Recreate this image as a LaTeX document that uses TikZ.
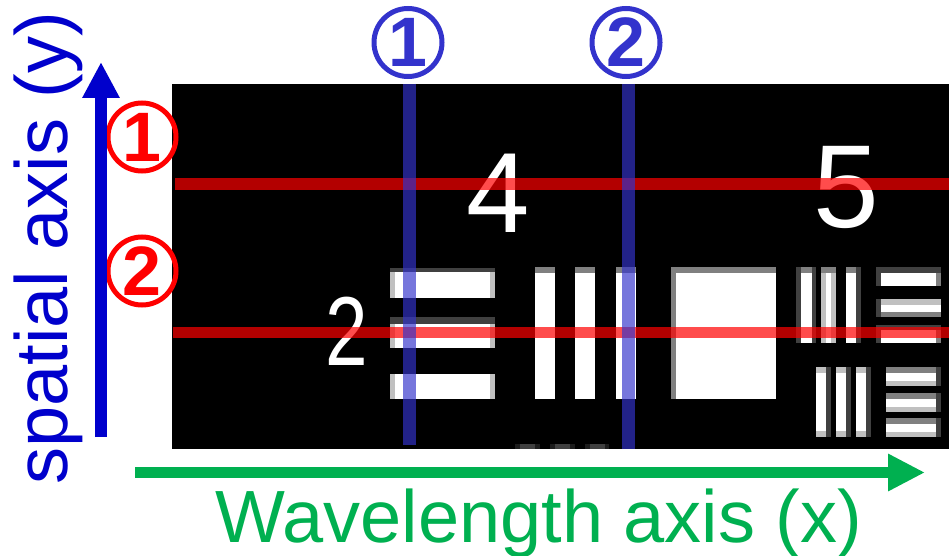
\documentclass[tikz,border=0pt]{standalone}
\usepackage{fontspec}
\setmainfont{Liberation Sans}
\usetikzlibrary{arrows.meta}
\definecolor{axisblue}{HTML}{0000CC}
\definecolor{axisgreen}{HTML}{00B050}
\definecolor{markblue}{HTML}{3333CC}
\definecolor{markred}{HTML}{FF0000}
\definecolor{gA}{HTML}{404040}
\definecolor{gB}{HTML}{808080}
\definecolor{gC}{HTML}{C0C0C0}
\definecolor{gD}{HTML}{1C1C1C}
\newcommand{\pxr}[5]{\fill[#1] (#2,#3) rectangle (#4,#5);}
\tikzset{
  circnum/.style={circle,draw=#1,text=#1,line width=5pt,minimum size=68pt,inner sep=0pt,
    font=\fontsize{70}{72}\selectfont\bfseries},
  digit/.style={anchor=south,inner sep=0pt,text=white},
  redline/.style={draw=markred,opacity=0.7,line width=12pt},
  blueline/.style={draw=markblue,opacity=0.67,line width=13pt},
  axislabel/.style={inner sep=0pt,font=\fontsize{74}{80}\selectfont}
}
\begin{document}
\begin{tikzpicture}[x=1pt,y=-1pt]
\useasboundingbox (0,0) rectangle (949,556);
% image
\fill[black] (172,84) rectangle (949,449);
% group A horizontal bars
\pxr{gC}{390}{268}{495}{298}\pxr{white}{395}{272}{490}{298}\pxr{gA}{390}{268}{495}{272}
\pxr{gC}{390}{317}{495}{348}\pxr{white}{395}{324}{490}{348}\pxr{gA}{390}{317}{495}{324}
\pxr{gC}{390}{374}{495}{399}\pxr{white}{395}{374}{490}{399}
% group B vertical bars
\foreach \xx in {535,575,616}{
  \pxr{gB}{\xx}{267}{\xx+20}{273}\pxr{white}{\xx}{273}{\xx+20}{399}}
% big square
\pxr{gB}{671}{267}{776}{399}\pxr{white}{676}{273}{776}{399}
% group C
\pxr{gA}{796}{267}{816}{343}\pxr{white}{801}{273}{812}{343}\pxr{gB}{801}{267}{812}{273}
\pxr{gC}{821}{267}{836}{343}\pxr{white}{826}{273}{831}{343}\pxr{gB}{821}{267}{836}{273}
\pxr{white}{846}{273}{856}{343}\pxr{gA}{856}{267}{861}{343}\pxr{gB}{846}{267}{856}{273}
% group D
\pxr{gA}{876}{267}{941}{286}\pxr{white}{881}{273}{936}{286}\pxr{gB}{936}{273}{941}{286}
\pxr{gC}{876}{299}{941}{305}\pxr{white}{876}{305}{941}{312}\pxr{gB}{876}{312}{941}{317}
\pxr{gA}{876}{299}{881}{317}
\pxr{gA}{876}{325}{941}{343}\pxr{white}{881}{330}{936}{343}\pxr{gB}{936}{330}{941}{343}
% group E
\foreach \xx in {816,836,856}{
  \pxr{gC}{\xx}{367}{\xx+10}{437}\pxr{white}{\xx}{373}{\xx+10}{431}\pxr{gA}{\xx+10}{367}{\xx+15}{437}}
% group F
\foreach \yy in {367,393,418}{
  \pxr{gB}{886}{\yy}{941}{\yy+6}\pxr{white}{886}{\yy+6}{941}{\yy+14}\pxr{gC}{886}{\yy+14}{941}{\yy+19}
  \pxr{gA}{936}{\yy}{941}{\yy+19}}
% bottom partial bars
\pxr{gD}{515}{444}{540}{449}\pxr{gA}{520}{444}{535}{449}
\pxr{gD}{550}{444}{575}{449}\pxr{gA}{555}{444}{570}{449}
\pxr{gD}{585}{444}{609}{449}\pxr{gA}{590}{444}{605}{449}
% digits
\node[digit,font=\fontsize{114}{114}\selectfont] (d4) at (498,233) {4};
\node[digit,font=\fontsize{118}{118}\selectfont] (d5) at (846,229) {5};
\node[digit,font=\fontsize{98}{98}\selectfont,xscale=0.78] (d2) at (347,366) {2};
% scan lines
\coordinate (r1a) at (175,184); \coordinate (r1b) at (949,184);
\coordinate (r2a) at (173,332.5); \coordinate (r2b) at (949,332.5);
\draw[redline] (r1a) -- (r1b);
\draw[redline,line width=11pt] (r2a) -- (r2b);
\coordinate (b1a) at (409.5,84); \coordinate (b1b) at (409.5,445);
\coordinate (b2a) at (628,84); \coordinate (b2b) at (628,449);
\draw[blueline] (b1a) -- (b1b);
\draw[blueline] (b2a) -- (b2b);
% circled numbers
\node[circnum=markblue] (cb1) at (408,42.5) {1};
\node[circnum=markblue] (cb2) at (626,42.5) {2};
\node[circnum=markred] (cr1) at (142,137) {1};
\node[circnum=markred] (cr2) at (142,271) {2};
% axes
\coordinate (ya) at (101,437); \coordinate (yb) at (101,62);
\draw[axisblue,line width=12pt,-{Triangle[length=36pt,width=35pt]}] (ya) -- (yb);
\coordinate (xa) at (135,472.5); \coordinate (xb) at (925,472.5);
\draw[axisgreen,line width=11pt,-{Triangle[length=37pt,width=35pt]}] (xa) -- (xb);
\node[axislabel,text=axisblue,rotate=90,anchor=base west] (ylab) at (67,485) {spatial axis (y)};
\node[axislabel,text=axisgreen,anchor=base west] (xlab) at (215,542) {Wavelength axis (x)};
\end{tikzpicture}
\end{document}
